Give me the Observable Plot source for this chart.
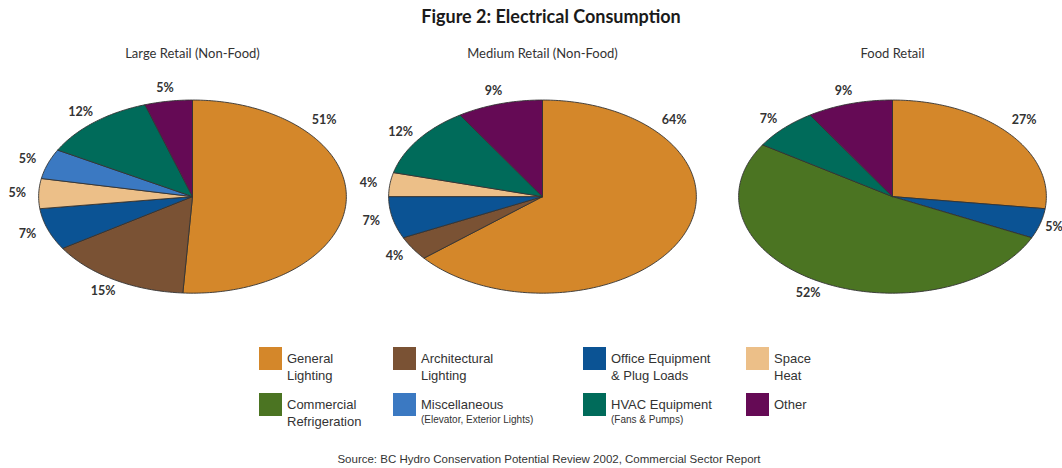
<!DOCTYPE html>
<html>
<head>
<meta charset="utf-8">
<script src="https://cdn.jsdelivr.net/npm/d3@7"></script>
<script src="https://cdn.jsdelivr.net/npm/@observablehq/plot@0.6"></script>
<style>
  html, body { margin: 0; padding: 0; background: #fff; overflow: hidden; }
  body { width: 1062px; height: 468px; position: relative; font-family: Lato, "Open Sans", sans-serif; color: #222; }
  #title { position: absolute; top: 0; left: 0; width: 1062px; height: 32px; line-height: 32px; text-align: center; padding-left: 40px; box-sizing: border-box; font-weight: bold; font-size: 18px; color: #1a1a1a; }
  #chart { position: absolute; top: 30px; left: 0; }
  #legend { position: absolute; top: 347px; left: 259px; display: grid; grid-template-columns: 134px 190px 163px 120px; grid-auto-rows: 46px; font-family: "Liberation Sans", Arial, sans-serif; color: #333; }
  .item { display: flex; align-items: flex-start; }
  .sw { width: 23px; height: 23px; flex: none; margin-right: 5px; }
  .txt { font-size: 13px; line-height: 17px; padding-top: 3px; }
  .note { font-size: 10px; line-height: 13px; display: block; }
  #source { position: absolute; top: 453px; left: 0; width: 1062px; text-align: center; padding-left: 36px; box-sizing: border-box; font-family: "Liberation Sans", Arial, sans-serif; font-size: 11.5px; color: #333; }
</style>
</head>
<body>
<div id="title">Figure 2: Electrical Consumption</div>
<div id="chart"></div>
<div id="legend"></div>
<div id="source">Source: BC Hydro Conservation Potential Review 2002, Commercial Sector Report</div>
<script>
// ---- data ----
const categories = [
  "General Lighting",
  "Architectural Lighting",
  "Office Equipment & Plug Loads",
  "Space Heat",
  "Miscellaneous",
  "Commercial Refrigeration",
  "HVAC Equipment",
  "Other"
];
const charts = ["Large Retail (Non-Food)", "Medium Retail (Non-Food)", "Food Retail"];
const largeRetail  = [51, 15, 7, 5, 5, 0, 12, 5];
const mediumRetail = [64, 4, 7, 4, 0, 0, 12, 9];
const foodRetail   = [27, 0, 5, 0, 0, 52, 7, 9];
const seriesValues = [largeRetail, mediumRetail, foodRetail];

// legend texts (line 1, line 2, small note)
const legendOrder = [
  "General Lighting", "Architectural Lighting", "Office Equipment & Plug Loads", "Space Heat",
  "Commercial Refrigeration", "Miscellaneous", "HVAC Equipment", "Other"
];
const legendLines = {
  "General Lighting": ["General", "Lighting"],
  "Architectural Lighting": ["Architectural", "Lighting"],
  "Office Equipment & Plug Loads": ["Office Equipment", "& Plug Loads"],
  "Space Heat": ["Space", "Heat"],
  "Commercial Refrigeration": ["Commercial", "Refrigeration"],
  "Miscellaneous": ["Miscellaneous"],
  "HVAC Equipment": ["HVAC Equipment"],
  "Other": ["Other"]
};
const legendNotes = {
  "Miscellaneous": "(Elevator, Exterior Lights)",
  "HVAC Equipment": "(Fans & Pumps)"
};

// ---- styles ----
const palette = ["#d4872a", "#7a5234", "#0b5394", "#ecbf88", "#3b79c2", "#4b7422", "#006b5a", "#650a55"];

// ---- build slice polygons and labels via d3.pie ----
const pie = d3.pie().sort(null).value(d => d.value).startAngle(0).endAngle(2 * Math.PI);
const slices = [];
const labels = [];
charts.forEach((chart, ci) => {
  const rows = categories.map((c, k) => ({category: c, value: seriesValues[ci][k]})).filter(d => d.value > 0);
  const arcs = pie(rows);
  arcs.forEach((a, i) => {
    const id = chart + "|" + a.data.category;
    slices.push({chart, id, category: a.data.category, x: 0, y: 0});
    const n = Math.max(2, Math.ceil((a.endAngle - a.startAngle) / (Math.PI / 180)));
    for (let j = 0; j <= n; j++) {
      const t = a.startAngle + (a.endAngle - a.startAngle) * j / n;
      slices.push({chart, id, category: a.data.category, x: Math.sin(t), y: Math.cos(t)});
    }
    slices.push({chart, id, category: a.data.category, x: 0, y: 0});
    const mid = (a.startAngle + a.endAngle) / 2;
    const ang = i === 0 ? Math.min(mid, 0.82) : mid;
    const rr = i === 0 ? 1.17 : 1.14;
    // keep labels inside the frame on the right edge
    labels.push({chart, text: a.data.value + "%", x: Math.min(1.05, rr * Math.sin(ang)), y: rr * Math.cos(ang)});
  });
});

const plot = Plot.plot({
  width: 1062,
  height: 310,
  marginLeft: 16,
  marginRight: -5,
  marginTop: 0,
  marginBottom: 0,
  style: {fontFamily: "Lato, 'Open Sans', sans-serif", background: "white"},
  fx: {domain: charts, padding: 0, axis: null},
  x: {domain: [-1.1374, 1.1374], axis: null},
  y: {domain: [-1.49, 1.72], axis: null},
  color: {domain: categories, range: palette},
  marks: [
    Plot.line(slices, {fx: "chart", x: "x", y: "y", z: "id", fill: "category", stroke: "#333", strokeWidth: 0.9, strokeLinejoin: "round", curve: "linear"}),
    Plot.text(labels, {fx: "chart", x: "x", y: "y", text: "text", fontWeight: "bold", fontSize: 12.5, fill: "#333", textAnchor: "middle", lineAnchor: "middle"}),
    Plot.text(charts, {fx: d => d, text: d => d, frameAnchor: "top", dy: 23, lineAnchor: "middle", fontSize: 13, fill: "#333"})
  ]
});
document.getElementById("chart").appendChild(plot);

// ---- legend ----
const legend = document.getElementById("legend");
legendOrder.forEach(cat => {
  const item = document.createElement("div");
  item.className = "item";
  const sw = document.createElement("div");
  sw.className = "sw";
  sw.style.background = palette[categories.indexOf(cat)];
  const txt = document.createElement("div");
  txt.className = "txt";
  txt.innerHTML = legendLines[cat].map(s => s.replace(/&/g, "&amp;")).join("<br>");
  if (legendNotes[cat]) {
    const note = document.createElement("span");
    note.className = "note";
    note.textContent = legendNotes[cat];
    txt.appendChild(note);
  }
  item.appendChild(sw);
  item.appendChild(txt);
  legend.appendChild(item);
});
</script>
</body>
</html>
